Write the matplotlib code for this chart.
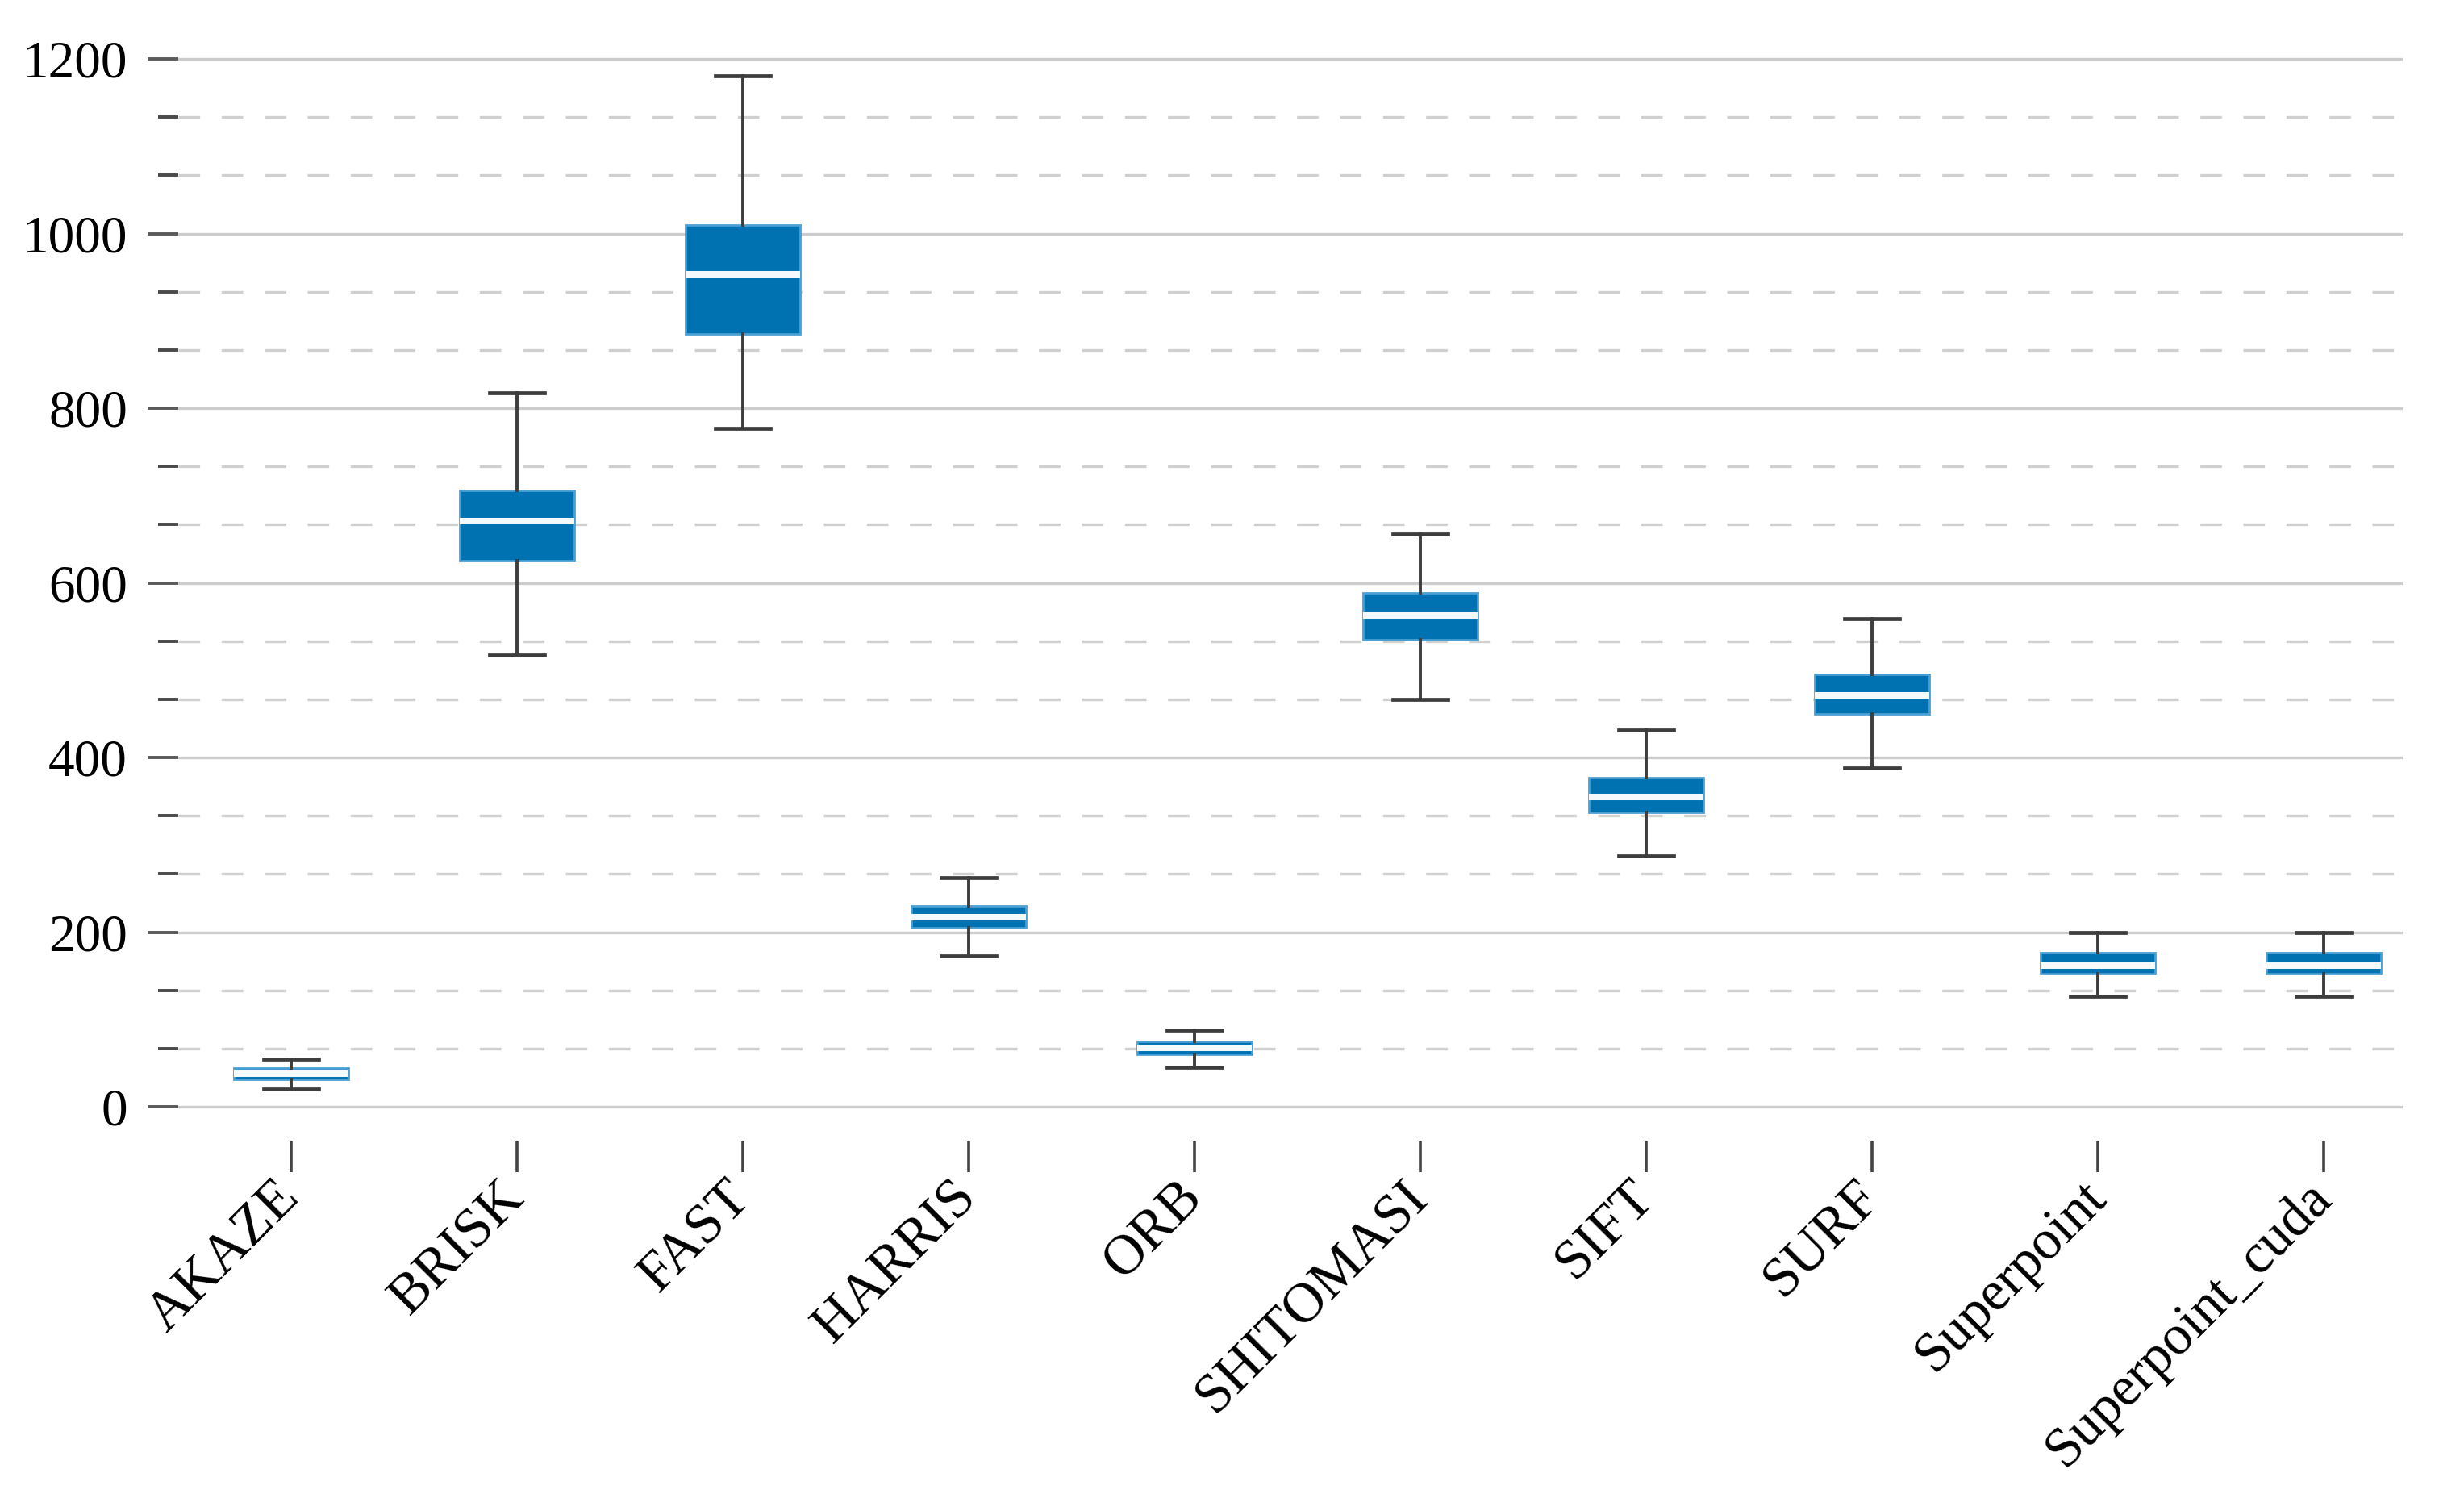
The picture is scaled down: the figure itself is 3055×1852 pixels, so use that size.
import matplotlib
matplotlib.use('Agg')
import matplotlib.pyplot as plt
from matplotlib.ticker import MultipleLocator, FixedLocator

# ---- data ----
categories = ["AKAZE", "BRISK", "FAST", "HARRIS", "ORB", "SHITOMASI",
              "SIFT", "SURF", "Superpoint", "Superpoint_cuda"]
whislo = [20, 517, 777, 173, 45.5, 466.5, 287.5, 388, 127, 127]
q1     = [31, 625, 885, 205.5, 60.5, 535, 337, 450, 152.5, 152.5]
med    = [37.5, 671, 953, 217, 67, 563, 354.5, 471, 162, 162]
q3     = [44, 705.5, 1010, 230, 75, 588.5, 377, 495, 176, 176]
whishi = [54.5, 818, 1181, 262, 88, 655.5, 431, 558.5, 200, 200]
yticks = [0, 200, 400, 600, 800, 1000, 1200]

plt.rcParams['font.family'] = ['Liberation Serif', 'DejaVu Serif']

fig = plt.figure(figsize=(15.275, 9.26), dpi=200)
ax = fig.add_axes([0.07234, 0.2358, 0.9028, 0.7277])

stats = [dict(label=c, whislo=a, q1=b, med=m, q3=d, whishi=e)
         for c, a, b, m, d, e in zip(categories, whislo, q1, med, q3, whishi)]

ax.bxp(stats, positions=list(range(len(categories))), widths=0.51,
       capwidths=0.245, showfliers=False, patch_artist=True,
       boxprops=dict(facecolor='#0072B2', edgecolor='#4a9fd3', linewidth=1.0),
       medianprops=dict(color='#f4f9fc', linewidth=2.9, solid_capstyle='butt'),
       whiskerprops=dict(color='#3d3d3d', linewidth=1.4),
       capprops=dict(color='#3d3d3d', linewidth=1.7))

ax.set_xlim(-0.5, len(categories) - 0.65)
ax.set_ylim(-40, 1205)

ax.yaxis.set_major_locator(FixedLocator(yticks))
ax.yaxis.set_minor_locator(MultipleLocator(200 / 3))
ax.set_xticks(list(range(len(categories))))
ax.set_xticklabels(categories, rotation=45, ha='right', va='center',
                   rotation_mode='anchor', fontsize=25)
ax.tick_params(axis='y', which='major', length=13.7, width=1.4,
               color='#5a5a5a', pad=9, labelsize=23.5)
ax.tick_params(axis='y', which='minor', length=9, width=1.4, color='#4a4a4a')
ax.tick_params(axis='x', which='major', length=13.5, width=1.3,
               color='#444444', pad=8)

for s in ax.spines.values():
    s.set_visible(False)

ax.set_axisbelow(True)
ax.grid(True, axis='y', which='major', color='#cccccc', linewidth=1.2,
        linestyle='-')
ax.grid(True, axis='y', which='minor', color='#d0d0d0', linewidth=1.2,
        linestyle=(0, (8, 8)))
ax.grid(False, axis='x')

fig.savefig('out.png', dpi=200)
